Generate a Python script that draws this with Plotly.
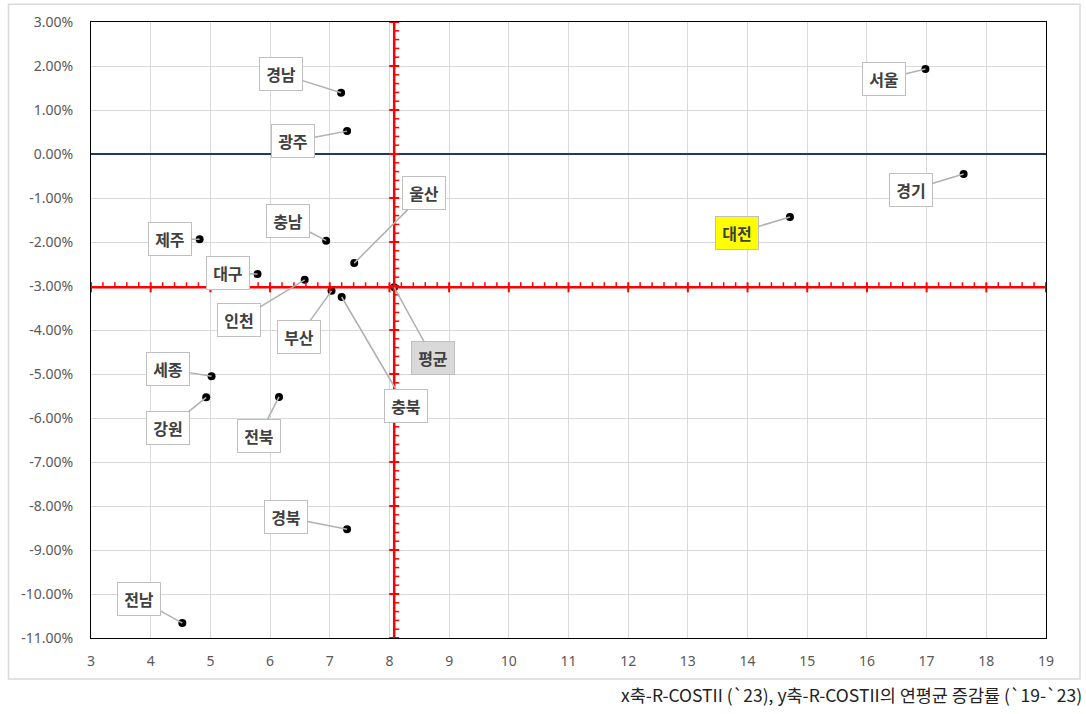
import plotly.graph_objects as go
import numpy as np

# ---- data ----
regions = ["서울", "경기", "대전", "경남", "광주", "울산", "충남", "제주", "대구",
           "인천", "부산", "충북", "세종", "강원", "전북", "경북", "전남"]
x_vals = [16.98, 17.62, 14.71, 7.19, 7.29, 7.41, 6.94, 4.82, 5.79,
          6.58, 7.03, 7.20, 5.02, 4.93, 6.15, 7.29, 4.53]
y_pct = [1.93, -0.455, -1.43, 1.39, 0.52, -2.48, -1.97, -1.94, -2.73,
         -2.86, -3.11, -3.25, -5.05, -5.53, -5.52, -8.53, -10.66]
avg_label = "평균"
avg_x = 8.08
avg_y_pct = -3.03

x_ticks = list(range(3, 20))
y_ticks_pct = list(range(-11, 4))
y_ticktext = [f"{v:.2f}%" for v in y_ticks_pct]
caption = "x축-R-COSTII (`23), y축-R-COSTII의 연평균 증감률 (`19-`23)"

# ---- label placement (pixel offsets of callout boxes) ----
label_offsets = {
    "서울": (-41, 10), "경기": (-53, 16), "대전": (-53, 16), "경남": (-60, -19),
    "광주": (-54, 10), "울산": (70, -70), "충남": (-38, -20), "제주": (-30, 0),
    "대구": (-30, -1), "인천": (-66, 40), "부산": (-33, 46), "충북": (64, 109),
    "세종": (-44, -7), "강원": (-38, 31), "전북": (-20, 39), "경북": (-61, -12),
    "전남": (-43, -24), "평균": (39, 71),
}
label_bg = {"대전": "#ffff00", "평균": "#d9d9d9"}

y_vals = [v / 100 for v in y_pct]
avg_y = avg_y_pct / 100
y_ticks = [v / 100 for v in y_ticks_pct]

fig = go.Figure()
fig.add_trace(go.Scatter(
    x=x_vals + [avg_x], y=y_vals + [avg_y], mode="markers",
    marker=dict(color="black", size=8),
    hoverinfo="skip", showlegend=False,
))

RED = "#ff0000"
shapes = []
xmin, xmax = x_ticks[0], x_ticks[-1]
ymin, ymax = y_ticks[0], y_ticks[-1]
# red cross lines
shapes.append(dict(type="line", xref="x", yref="y", x0=xmin, x1=xmax, y0=avg_y, y1=avg_y,
                   line=dict(color=RED, width=2.5), layer="above"))
shapes.append(dict(type="line", xref="x", yref="y", x0=avg_x, x1=avg_x, y0=ymin, y1=ymax,
                   line=dict(color=RED, width=2.5), layer="above"))
# ticks on horizontal red line
for v in np.arange(xmin, xmax + 1e-9, 0.2):
    major = abs(v - round(v)) < 1e-6
    shapes.append(dict(type="line", xref="x", yref="y", ysizemode="pixel", yanchor=avg_y,
                       x0=v, x1=v, y0=-5 if major else 0, y1=5,
                       line=dict(color=RED, width=2 if major else 1.5), layer="above"))
# ticks on vertical red line
for v in np.arange(y_ticks_pct[0], y_ticks_pct[-1] + 1e-9, 0.2):
    major = abs(v - round(v)) < 1e-6
    shapes.append(dict(type="line", xref="x", yref="y", xsizemode="pixel", xanchor=avg_x,
                       y0=v / 100, y1=v / 100, x0=-5 if major else 0, x1=5,
                       line=dict(color=RED, width=2 if major else 1.5), layer="above"))
# outer chart border
shapes.append(dict(type="rect", xref="paper", yref="paper", x0=-0.0864, x1=1.0356,
                   y0=-0.0666, y1=1.029, line=dict(color="#d9d9d9", width=1.5), layer="below"))

annotations = []
for name, xv, yv in list(zip(regions, x_vals, y_vals)) + [(avg_label, avg_x, avg_y)]:
    ax, ay = label_offsets[name]
    annotations.append(dict(
        x=xv, y=yv, xref="x", yref="y", text=name, showarrow=True,
        ax=ax, ay=ay, axref="pixel", ayref="pixel",
        arrowhead=0, arrowwidth=1.5, arrowcolor="#b0b0b0",
        bgcolor=label_bg.get(name, "white"), bordercolor="#bfbfbf", borderwidth=1,
        borderpad=6, width=30, height=20,
        font=dict(family="Noto Sans CJK KR", size=16, color="#404040", weight="bold"),
    ))
annotations.append(dict(
    x=1.0398, y=-0.0925, xref="paper", yref="paper", xanchor="right", yanchor="middle",
    text=caption, showarrow=False,
    font=dict(family="Noto Sans CJK KR", size=17.5, color="#222222"),
))

fig.update_layout(
    width=1086, height=714,
    margin=dict(l=91, r=40, t=22, b=76),
    paper_bgcolor="white", plot_bgcolor="white",
    shapes=shapes, annotations=annotations,
    font=dict(family="Noto Sans", size=14, color="#595959"),
    xaxis=dict(range=[xmin, xmax], tickvals=x_ticks, showgrid=True, gridcolor="#d9d9d9",
               gridwidth=1, showline=True, linecolor="black", linewidth=1, mirror=True,
               zeroline=False, ticks="", ticklabelstandoff=10,
               tickfont=dict(family="Noto Sans", size=14, color="#595959")),
    yaxis=dict(range=[ymin, ymax], tickvals=y_ticks, ticktext=y_ticktext, showgrid=True,
               gridcolor="#d9d9d9", gridwidth=1, showline=True, linecolor="black",
               linewidth=1, mirror=True, zeroline=True, zerolinecolor="#1f3864",
               zerolinewidth=1.5, ticks="", ticklabelstandoff=14,
               tickfont=dict(family="Noto Sans", size=14, color="#595959")),
)

fig.write_html("out.html", config={"displayModeBar": False},
               post_script="document.body.style.margin='0';")
